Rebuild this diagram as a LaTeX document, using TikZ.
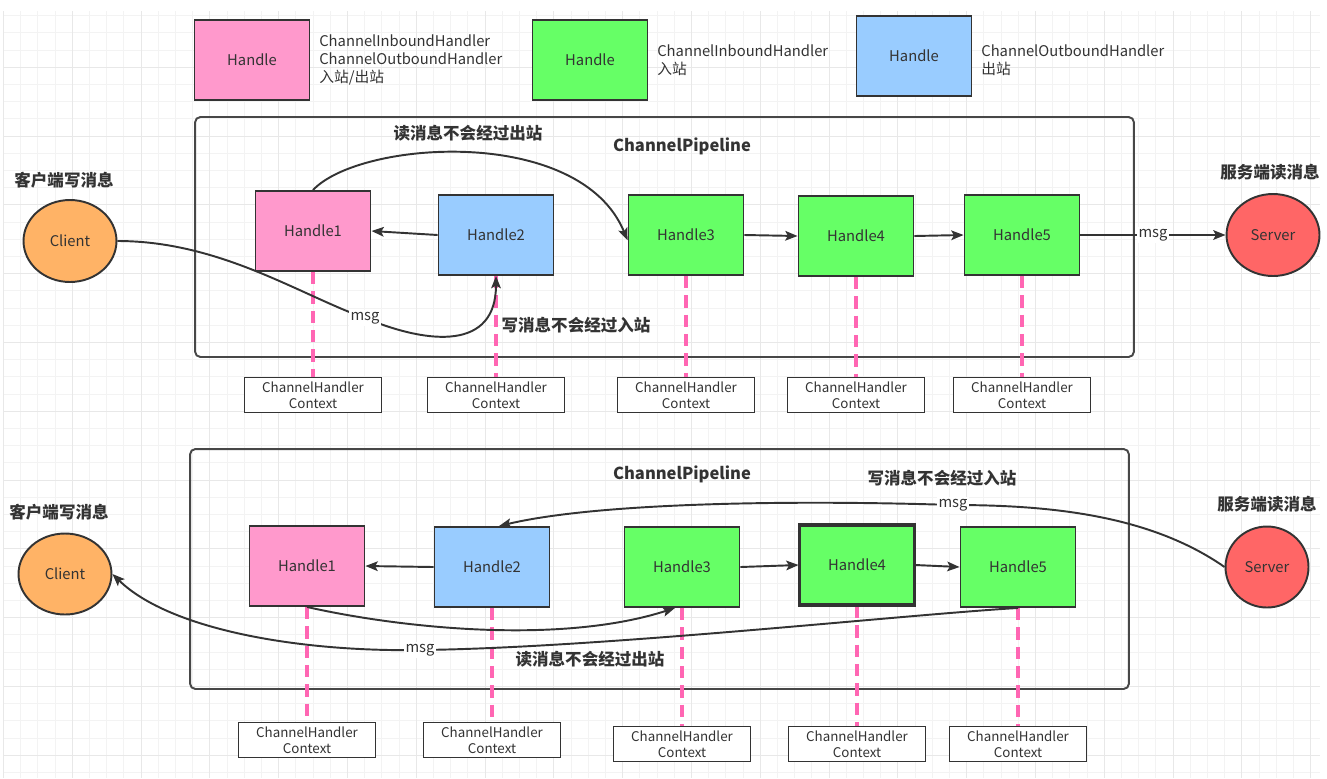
\documentclass[tikz,border=0pt]{standalone}
\usepackage{fontspec}
\setmainfont{Noto Sans CJK SC}
\usepackage{tikz}
\usetikzlibrary{arrows.meta,positioning,shapes.geometric}

\definecolor{inkgray}{HTML}{333333}
\definecolor{pinkfill}{HTML}{FF99CC}
\definecolor{greenfill}{HTML}{66FF66}
\definecolor{bluefill}{HTML}{99CCFF}
\definecolor{clientfill}{HTML}{FFB366}
\definecolor{serverfill}{HTML}{FF6666}
\definecolor{ctxpink}{HTML}{FF66B3}
\definecolor{gridminor}{HTML}{F3F3F3}
\definecolor{gridmajor}{HTML}{E8E8E8}

\begin{document}
\begin{tikzpicture}[
    x=0.02cm, y=-0.02cm,
    every node/.style={text=inkgray, font=\fontsize{8.4}{10.2}\selectfont},
    handle/.style={
        draw=inkgray, rectangle,
        line width=1.1pt,
        minimum width=2.3cm,
        minimum height=1.6cm,
        inner sep=0pt
    },
    endpoint/.style={
        draw=inkgray, ellipse,
        line width=1.1pt,
        minimum width=1.86cm,
        minimum height=1.64cm,
        inner sep=0pt
    },
    ctx/.style={
        draw=inkgray, rectangle, fill=white,
        line width=0.9pt,
        minimum width=2.74cm,
        minimum height=0.7cm,
        align=center, inner sep=0pt,
        font=\fontsize{7.6}{9}\selectfont
    },
    pipe/.style={draw=inkgray!90, line width=1.1pt, rounded corners=3pt},
    caption/.style={font=\fontsize{9.4}{11}\selectfont\bfseries},
    legend/.style={align=left, inner sep=2pt},
    msglbl/.style={fill=white, inner sep=1pt},
    arrow/.style={-{Stealth[length=7pt, width=5.5pt, inset=1.5pt]}, draw=inkgray, line width=1.1pt},
    ctxlink/.style={ctxpink, line width=2pt, dash pattern=on 7pt off 4pt}
]

%% ── Background grid ───────────────────────────────────
\useasboundingbox (0,0) rectangle (1327,778);
\foreach \gx in {3.5,20.7,...,1320}
    \draw[gridminor, line width=0.5pt] (\gx,11) -- (\gx,778);
\foreach \gy in {15.7,32.9,...,778}
    \draw[gridminor, line width=0.5pt] (3.5,\gy) -- (1320,\gy);
\foreach \gx in {3.5,72.3,...,1320}
    \draw[gridmajor, line width=0.6pt] (\gx,11) -- (\gx,778);
\foreach \gy in {67.3,136.1,...,778}
    \draw[gridmajor, line width=0.6pt] (3.5,\gy) -- (1320,\gy);

%% ── Legend ────────────────────────────────────────────
\node[handle, fill=pinkfill] (lgPink) at (252,60) {Handle};
\node[legend, right=0.1cm of lgPink] (lgPinkTxt)
    {ChannelInboundHandler\\ChannelOutboundHandler\\入站/出站};
\node[handle, fill=greenfill] (lgGreen) at (590,60) {Handle};
\node[legend, right=0.1cm of lgGreen] (lgGreenTxt)
    {ChannelInboundHandler\\入站};
\node[handle, fill=bluefill] (lgBlue) at (914,56) {Handle};
\node[legend, right=0.1cm of lgBlue, yshift=-2.5pt] (lgBlueTxt)
    {ChannelOutboundHandler\\出站};

%% ── Pipeline 1: client writes, server reads ───────────
\node[pipe, minimum width=18.78cm, minimum height=4.8cm] (pipe1) at (664.5,237) {};
\node[caption] (title1) at (682,146) {ChannelPipeline};

\node[endpoint, fill=clientfill] (cli1) at (70,241) {Client};
\node[caption] (cli1Lbl) at (64,180) {客户端写消息};
\node[endpoint, fill=serverfill] (srv1) at (1273,235) {Server};
\node[caption] (srv1Lbl) at (1270,172) {服务端读消息};

\foreach \i/\x/\y/\c in {1/313/231/pinkfill, 2/496/235/bluefill,
        3/686/235/greenfill, 4/856/236/greenfill, 5/1022/235/greenfill}{
    \node[handle, fill=\c] (h1\i) at (\x,\y) {Handle\i};
    \node[ctx] (c1\i) at (\x,395) {ChannelHandler\\Context};
    \draw[ctxlink] (h1\i.south) -- (h1\i.south |- c1\i.north);
}

\draw[arrow] (h12.west) -- (h11.east);
\draw[arrow] (h13.east) -- (h14.west);
\draw[arrow] (h14.east) -- (h15.west);
\draw[arrow] (h15.east) -- node[msglbl] {msg} (srv1.west);

% inbound read skips the outbound handle
\draw[arrow] (h11.north) .. controls (360,140) and (580,125) .. ([yshift=-3pt]h13.west);
\node[caption] (read1Lbl) at (468,133) {读消息不会经过出站};

% outbound write skips the inbound handle
\draw[arrow] (cli1.east) .. controls (220,241) and (300,295) .. (365,318)
    node[msglbl] {msg}
    .. controls (430,345) and (496,350) .. (h12.south);
\node[caption] (write1Lbl) at (576,325) {写消息不会经过入站};

%% ── Pipeline 2: server writes, client reads ───────────
\node[pipe, minimum width=18.78cm, minimum height=4.8cm] (pipe2) at (659.5,569) {};
\node[caption] (title2) at (682,474) {ChannelPipeline};

\node[endpoint, fill=clientfill, minimum height=1.62cm] (cli2) at (65,574) {Client};
\node[caption] (cli2Lbl) at (59,512) {客户端写消息};
\node[endpoint, fill=serverfill, minimum width=1.66cm, minimum height=1.62cm] (srv2) at (1267,567) {Server};
\node[caption] (srv2Lbl) at (1267,504) {服务端读消息};

\foreach \i/\x/\y/\c/\cy in {1/307/566/pinkfill/740, 2/492/567/bluefill/740,
        3/682/567/greenfill/744, 4/857/565/greenfill/744, 5/1018/567/greenfill/744}{
    \node[handle, fill=\c] (h2\i) at (\x,\y) {Handle\i};
    \node[ctx] (c2\i) at (\x,\cy) {ChannelHandler\\Context};
    \draw[ctxlink] (h2\i.south) -- (h2\i.south |- c2\i.north);
}
\node[handle, fill=greenfill, line width=2pt] at (h24) {Handle4};

\draw[arrow] (h22.west) -- (h21.east);
\draw[arrow] (h23.east) -- (h24.west);
\draw[arrow] (h24.east) -- (h25.west);

% outbound write skips the inbound handles
\draw[arrow] (srv2.west) .. controls (1150,515) and (1050,505) .. (953,505)
    node[msglbl] {msg}
    .. controls (800,500) and (600,502) .. ([xshift=4pt]h22.north);
\node[caption] (write2Lbl) at (942,478) {写消息不会经过入站};

% inbound read skips the outbound handles
\draw[arrow] (h21.south) .. controls (400,628) and (560,645) .. ([xshift=-4pt]h23.south);
\draw[arrow] (h25.south) .. controls (900,615) and (600,648) .. (420,650)
    node[msglbl] {msg}
    .. controls (300,652) and (170,630) .. (cli2.east);
\node[caption] (read2Lbl) at (590,659) {读消息不会经过出站};

\end{tikzpicture}
\end{document}
